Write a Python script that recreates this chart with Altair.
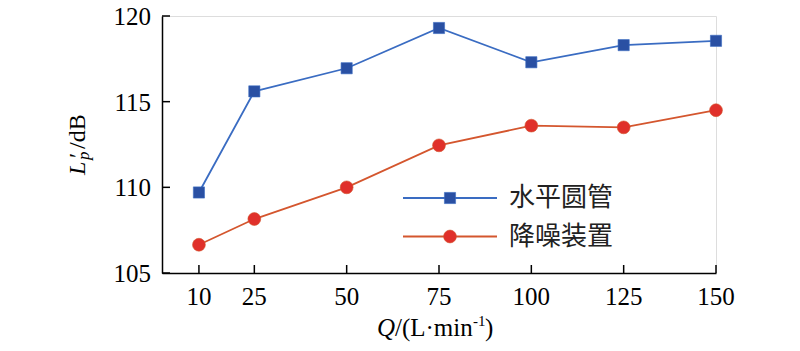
import altair as alt
import pandas as pd

# ---- data ----
Q = [10, 25, 50, 75, 100, 125, 150]
pipe = [109.7, 115.6, 116.95, 119.3, 117.3, 118.3, 118.55]      # 水平圆管
device = [106.65, 108.15, 110.0, 112.45, 113.6, 113.5, 114.5]   # 降噪装置
series_names = ["水平圆管", "降噪装置"]
x_ticks = [10, 25, 50, 75, 100, 125, 150]
y_ticks = [105, 110, 115, 120]

W, H = 554, 257
SERIF = "Liberation Serif"
CJK = "Noto Sans CJK SC"

df = pd.DataFrame({
    "Q": Q * 2,
    "v": pipe + device,
    "s": [series_names[0]] * len(Q) + [series_names[1]] * len(Q),
})

xs = alt.Scale(domain=[0, 150], nice=False, zero=False)
ys = alt.Scale(domain=[105, 120], nice=False, zero=False)

xaxis = alt.Axis(values=x_ticks, tickSize=0, labels=False, domainColor="black",
                 domainWidth=1.5, grid=False, title=None)
yaxis = alt.Axis(values=y_ticks, tickSize=0, labels=False, domainColor="black",
                 domainWidth=1.5, grid=False, title=None)

base = alt.Chart(df)

line_colors = {"水平圆管": "#3A6CC2", "降噪装置": "#D4562E"}
mark_colors = {"水平圆管": "#2A50A3", "降噪装置": "#E0302A"}
shapes = {"水平圆管": "square", "降噪装置": "circle"}
sizes = {"水平圆管": 125, "降噪装置": 165}

layers = []
for s in series_names:
    f = base.transform_filter(alt.datum.s == s)
    layers.append(f.mark_line(color=line_colors[s], strokeWidth=1.8).encode(
        x=alt.X("Q:Q", scale=xs, axis=xaxis),
        y=alt.Y("v:Q", scale=ys, axis=yaxis),
    ))
for s in series_names:
    f = base.transform_filter(alt.datum.s == s)
    layers.append(f.mark_point(shape=shapes[s], filled=True, opacity=1,
                               color=mark_colors[s], size=sizes[s],
                               stroke=line_colors[s], strokeWidth=0.6).encode(
        x=alt.X("Q:Q", scale=xs),
        y=alt.Y("v:Q", scale=ys),
    ))

# inward ticks
xt_df = pd.DataFrame({"t": x_ticks})
yt_df = pd.DataFrame({"t": y_ticks})
layers.append(alt.Chart(xt_df).mark_rule(color="black", strokeWidth=1.5).encode(
    x=alt.X("t:Q", scale=xs), y=alt.value(H - 8), y2=alt.value(H)))
layers.append(alt.Chart(yt_df).mark_rule(color="black", strokeWidth=1.5).encode(
    y=alt.Y("t:Q", scale=ys), x=alt.value(0), x2=alt.value(8)))
# tick labels (serif)
layers.append(alt.Chart(xt_df).mark_text(font=SERIF, fontSize=25, align="center",
                                         baseline="alphabetic", color="black").encode(
    x=alt.X("t:Q", scale=xs), y=alt.value(289), text=alt.Text("t:Q", format="d")))
layers.append(alt.Chart(yt_df).mark_text(font=SERIF, fontSize=25, align="right",
                                         baseline="alphabetic", color="black", dy=9).encode(
    y=alt.Y("t:Q", scale=ys), x=alt.value(-11), text=alt.Text("t:Q", format="d")))

# legend (manual)
leg_y = {"水平圆管": 182, "降噪装置": 220.5}
for s in series_names:
    one = alt.Chart(pd.DataFrame({"s": [s]}))
    layers.append(one.mark_rule(color=line_colors[s], strokeWidth=1.8).encode(
        x=alt.value(241), x2=alt.value(335), y=alt.value(leg_y[s])))
    layers.append(one.mark_point(shape=shapes[s], filled=True, opacity=1,
                                 color=mark_colors[s], size=sizes[s],
                                 stroke=line_colors[s], strokeWidth=0.6).encode(
        x=alt.value(288), y=alt.value(leg_y[s])))
    layers.append(one.mark_text(font=CJK, fontSize=26, align="left", baseline="middle",
                                color="#222222").encode(
        text="s:N", x=alt.value(347), y=alt.value(leg_y[s])))

def txt(t, x, y, size=25, style="normal", angle=0):
    return alt.Chart(pd.DataFrame({"t": [t]})).mark_text(
        font=SERIF, fontSize=size, fontStyle=style, align="left",
        baseline="alphabetic", color="black", angle=angle).encode(
        text="t:N", x=alt.value(x), y=alt.value(y))

# x title: Q/(L·min^-1)
layers += [
    txt("Q", 215, 320, style="italic"),
    txt("/(L·min", 233, 320),
    txt("-1", 311, 310, size=15),
    txt(")", 323, 320),
]
# y title: L'_p/dB (rotated)
layers += [
    txt("L", -77, 159, size=24, style="italic", angle=270),
    txt("′", -77, 142, size=24, angle=270),
    txt("p", -73, 144, size=17, style="italic", angle=270),
    txt("/dB", -77, 133, size=24, angle=270),
]

chart = alt.layer(*layers).properties(
    width=W, height=H,
    autosize=alt.AutoSizeParams(type="none"),
    padding={"left": 162, "top": 16, "right": 84, "bottom": 78},
).configure_view(stroke=None).configure(background="white")

chart.save("out.html", embed_options={"renderer": "svg", "actions": False})
